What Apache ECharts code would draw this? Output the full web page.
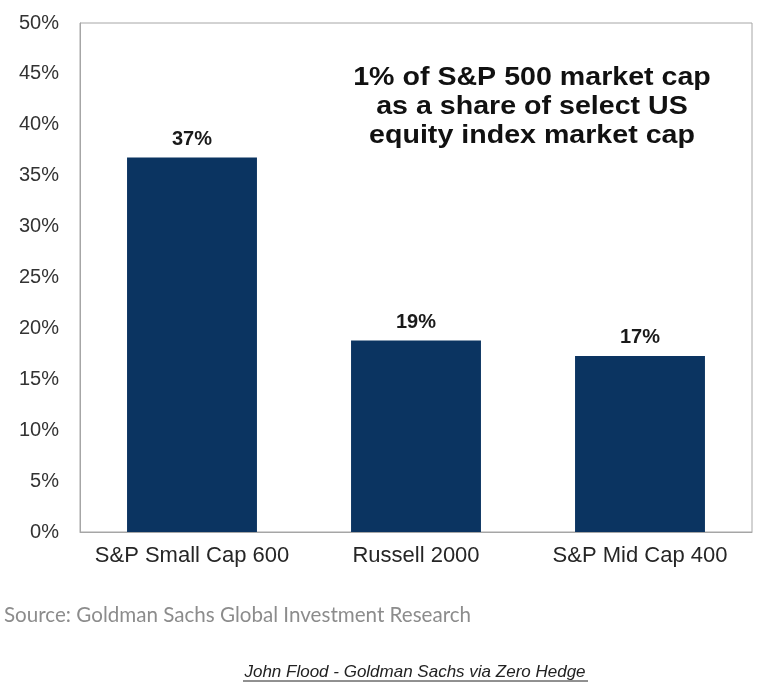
<!DOCTYPE html>
<html>
<head>
<meta charset="utf-8">
<script src="https://cdn.jsdelivr.net/npm/echarts@6/dist/echarts.min.js"></script>
<style>
html,body{margin:0;padding:0;background:#fff;}
#main{width:757px;height:688px;}
</style>
</head>
<body>
<div id="main"></div>
<script>
var categories = ['S&P Small Cap 600', 'Russell 2000', 'S&P Mid Cap 400'];
var values = [36.8, 18.8, 17.3];
var barLabels = ['37%', '19%', '17%'];
var yTicks = [0, 5, 10, 15, 20, 25, 30, 35, 40, 45, 50];

var chart = echarts.init(document.getElementById('main'));
chart.setOption({
  backgroundColor: '#ffffff',
  animation: false,
  grid: {
    left: 80, right: 5, top: 23, bottom: 156,
    show: true, borderColor: '#a6a6a6', borderWidth: 1, backgroundColor: 'transparent'
  },
  xAxis: {
    type: 'category',
    data: categories,
    axisLine: { show: true, lineStyle: { color: '#a6a6a6', width: 1 } },
    axisTick: { show: false },
    axisLabel: { interval: 0, margin: 13, fontSize: 22, color: '#262626', fontFamily: 'Liberation Sans' }
  },
  yAxis: {
    type: 'value',
    min: yTicks[0], max: yTicks[yTicks.length - 1], interval: 5,
    axisLine: { show: true, lineStyle: { color: '#a6a6a6', width: 1 } },
    axisTick: { show: false },
    splitLine: { show: false },
    axisLabel: { margin: 21, fontSize: 20, color: '#333333', fontFamily: 'Liberation Sans', formatter: '{value}%' }
  },
  series: [{
    type: 'bar',
    data: values,
    barWidth: '58%',
    itemStyle: { color: '#0b3461' },
    label: {
      show: true, position: 'top', distance: 8,
      fontSize: 20, fontWeight: 'bold', color: '#1a1a1a', fontFamily: 'Liberation Sans',
      formatter: function (p) { return barLabels[p.dataIndex]; }
    }
  }],
  graphic: [
    {
      type: 'text', x: 532, y: 63, scaleX: 1.1,
      style: {
        x: 0, y: 0,
        text: '1% of S&P 500 market cap\nas a share of select US\nequity index market cap',
        fontSize: 26, fontWeight: 'bold', fontFamily: 'Liberation Sans', fill: '#111111',
        align: 'center', verticalAlign: 'top', lineHeight: 29
      }
    },
    {
      type: 'text',
      style: {
        x: 4, y: 615, verticalAlign: 'middle',
        text: 'Source: Goldman Sachs Global Investment Research',
        fontSize: 20.6, fontFamily: 'Lato', fill: '#8c8c8c'
      }
    },
    {
      type: 'text',
      style: {
        x: 415, y: 672, align: 'center', verticalAlign: 'middle',
        text: 'John Flood - Goldman Sachs via Zero Hedge',
        fontSize: 17, fontStyle: 'italic', fontFamily: 'Liberation Sans', fill: '#222222'
      }
    },
    {
      type: 'line', shape: { x1: 243, y1: 681, x2: 588, y2: 681 },
      style: { stroke: '#222222', lineWidth: 1 }
    }
  ]
});
</script>
</body>
</html>
